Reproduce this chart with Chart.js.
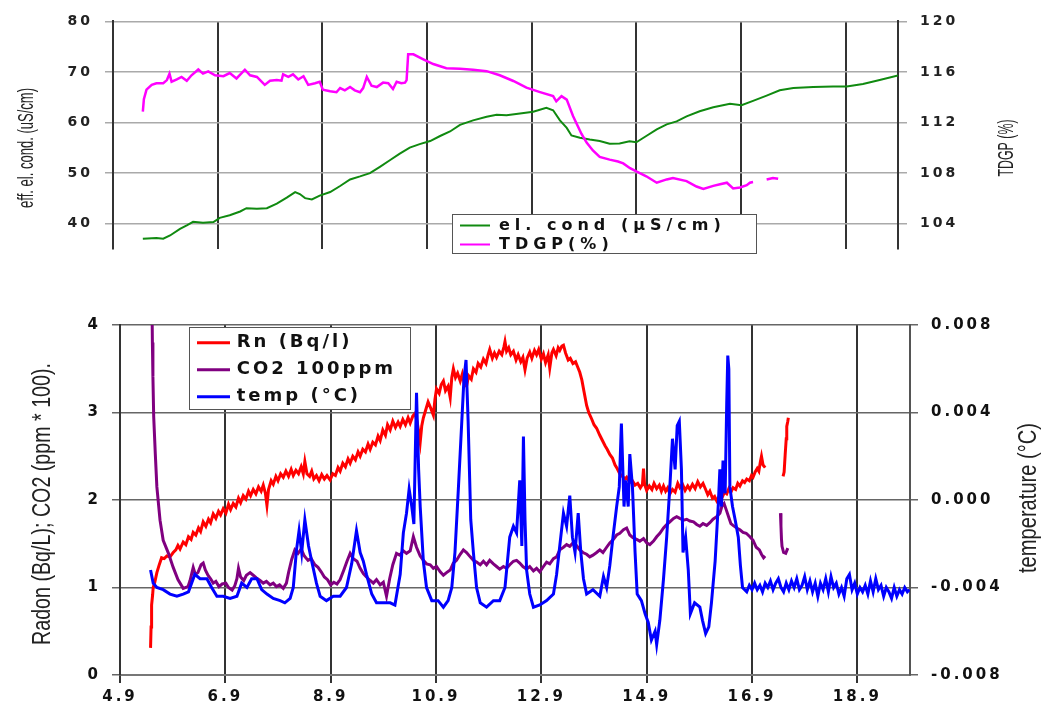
<!DOCTYPE html>
<html>
<head>
<meta charset="utf-8">
<script src="https://cdn.jsdelivr.net/npm/chart.js@4"></script>
<style>
  body { margin: 0; background: #fff; }
  canvas { position: absolute; left: 0; }
  #cond { top: 0; }
  #radon { top: 290px; }
</style>
</head>
<body>
<canvas id="cond" width="1043" height="270"></canvas>
<canvas id="radon" width="1043" height="416"></canvas>
<script>
// ticks
var xTicks = [4.9, 6.9, 8.9, 10.9, 12.9, 14.9, 16.9, 18.9];
var condTicks = [40, 50, 60, 70, 80];
var tdgpTicks = [104, 108, 112, 116, 120];
var radonTicks = [0, 1, 2, 3, 4];
var tempTicks = [-0.008, -0.004, 0, 0.004, 0.008];

// top chart: electrical conductivity (left) and TDGP (right)
var condX = [5.47, 5.73, 5.86, 5.99, 6.18, 6.31, 6.43, 6.62, 6.82, 6.94, 7.13, 7.33, 7.45, 7.65, 7.84, 8.03, 8.22, 8.38, 8.47, 8.57,
  8.70, 8.85, 9.05, 9.24, 9.43, 9.62, 9.81, 10.00, 10.19, 10.38, 10.57, 10.76, 10.96, 11.15, 11.34, 11.53, 11.78, 12.04, 12.23, 12.42,
  12.64, 12.93, 13.18, 13.31, 13.44, 13.57, 13.66, 13.82, 14.01, 14.20, 14.39, 14.58, 14.77, 14.90, 15.09, 15.29, 15.48, 15.67, 15.86, 16.11,
  16.37, 16.69, 16.91, 17.13, 17.39, 17.64, 17.90, 18.28, 18.66, 18.92, 19.23, 19.55, 19.90];
var condY = [36.95, 37.1, 36.95, 37.6, 38.9, 39.6, 40.3, 40.1, 40.25, 41.1, 41.6, 42.35, 43.0, 42.9, 43.0, 43.9, 45.1, 46.2, 45.8, 45.0,
  44.75, 45.5, 46.2, 47.4, 48.7, 49.3, 49.95, 51.2, 52.5, 53.8, 55.0, 55.7, 56.3, 57.3, 58.2, 59.5, 60.4, 61.1, 61.5, 61.4,
  61.7, 62.1, 62.9, 62.4, 60.4, 58.9, 57.4, 56.95, 56.6, 56.3, 55.75, 55.8, 56.25, 56.05, 57.3, 58.6, 59.6, 60.2, 61.2, 62.2,
  63.0, 63.7, 63.4, 64.25, 65.3, 66.35, 66.8, 67.0, 67.1, 67.1, 67.6, 68.4, 69.3];

var tdgpX = [5.47, 5.49, 5.54, 5.64, 5.73, 5.86, 5.93, 5.98, 6.02, 6.12, 6.21, 6.31, 6.40, 6.53, 6.62, 6.72, 6.85, 7.01, 7.13, 7.26,
  7.42, 7.52, 7.65, 7.80, 7.90, 8.03, 8.12, 8.15, 8.25, 8.34, 8.44, 8.54, 8.63, 8.76, 8.85, 8.91, 9.05, 9.17, 9.24, 9.33,
  9.43, 9.52, 9.62, 9.68, 9.75, 9.84, 9.94, 10.06, 10.16, 10.25, 10.32, 10.41, 10.48, 10.51, 10.54, 10.64, 10.83, 11.02, 11.27, 11.53,
  11.78, 12.04, 12.29, 12.55, 12.80, 13.06, 13.31, 13.37, 13.47, 13.57, 13.69, 13.85, 13.95, 14.07, 14.20, 14.39, 14.55, 14.65, 14.78, 14.90,
  15.09, 15.29, 15.48, 15.60, 15.86, 16.05, 16.18, 16.37, 16.50, 16.63, 16.75, 16.88, 17.01, 17.07, 17.13, 17.25, 17.39, 17.51, 17.61];
var tdgpY = [112.86, 113.83, 114.59, 114.97, 115.1, 115.1, 115.35, 115.86, 115.22, 115.4, 115.6, 115.3, 115.73, 116.19, 115.86, 116.04, 115.73, 115.66, 115.91, 115.48,
  116.17, 115.73, 115.6, 114.97, 115.3, 115.35, 115.3, 115.81, 115.6, 115.81, 115.4, 115.66, 114.97, 115.1, 115.22, 114.59, 114.46, 114.39, 114.72, 114.54,
  114.8, 114.54, 114.39, 114.72, 115.6, 114.9, 114.8, 115.15, 115.1, 114.64, 115.22, 115.1, 115.15, 115.35, 117.39, 117.39, 117.0, 116.62, 116.29, 116.24,
  116.17, 116.06, 115.73, 115.28, 114.75, 114.4, 114.08, 113.67, 114.08, 113.8, 112.5, 111.1, 110.4, 109.77, 109.26, 109.05, 108.9, 108.75, 108.37, 108.11,
  107.73, 107.22, 107.48, 107.6, 107.35, 106.92, 106.72, 106.97, 107.1, 107.22, 106.77, 106.84, 107.02, 107.22, 107.27, null, 107.48, 107.6, 107.53];

// bottom chart: radon, CO2 (left) and temperature (right)
var rnX = [5.48, 5.49, 5.50, 5.52, 5.53, 5.56, 5.60, 5.64, 5.69, 5.74, 5.79, 5.85, 5.91, 5.96, 6.00, 6.04, 6.10, 6.15, 6.20, 6.25,
  6.29, 6.34, 6.39, 6.43, 6.48, 6.53, 6.58, 6.62, 6.67, 6.72, 6.77, 6.81, 6.86, 6.91, 6.96, 7.00, 7.05, 7.10, 7.15, 7.19,
  7.24, 7.29, 7.34, 7.38, 7.43, 7.48, 7.53, 7.58, 7.62, 7.66, 7.69, 7.72, 7.77, 7.81, 7.86, 7.90, 7.95, 8.00, 8.05, 8.10,
  8.15, 8.19, 8.24, 8.29, 8.34, 8.38, 8.41, 8.45, 8.50, 8.54, 8.58, 8.63, 8.68, 8.73, 8.78, 8.83, 8.89, 8.94, 8.99, 9.04,
  9.08, 9.13, 9.18, 9.23, 9.27, 9.32, 9.37, 9.42, 9.46, 9.51, 9.56, 9.61, 9.65, 9.70, 9.75, 9.80, 9.84, 9.89, 9.94, 9.98,
  10.03, 10.08, 10.13, 10.18, 10.22, 10.27, 10.32, 10.37, 10.41, 10.46, 10.50, 10.54, 10.58, 10.60, 10.63, 10.66, 10.70, 10.75, 10.80, 10.85,
  10.88, 10.91, 10.96, 11.00, 11.04, 11.08, 11.13, 11.17, 11.20, 11.23, 11.27, 11.31, 11.36, 11.40, 11.44, 11.48, 11.52, 11.57, 11.61, 11.66,
  11.70, 11.75, 11.80, 11.85, 11.89, 11.92, 11.97, 12.01, 12.05, 12.10, 12.15, 12.19, 12.21, 12.24, 12.28, 12.32, 12.37, 12.42, 12.46, 12.51,
  12.55, 12.59, 12.63, 12.68, 12.72, 12.77, 12.81, 12.85, 12.90, 12.94, 12.98, 13.03, 13.06, 13.10, 13.13, 13.18, 13.22, 13.25, 13.29, 13.32,
  13.36, 13.41, 13.45, 13.50, 13.55, 13.59, 13.63, 13.67, 13.71, 13.76, 13.80, 13.86, 13.90, 13.95, 14.01, 14.06, 14.11, 14.15, 14.20, 14.25,
  14.30, 14.34, 14.39, 14.44, 14.49, 14.52, 14.58, 14.63, 14.68, 14.73, 14.78, 14.82, 14.84, 14.86, 14.90, 14.95, 15.00, 15.04, 15.09, 15.14,
  15.18, 15.22, 15.26, 15.30, 15.34, 15.39, 15.44, 15.49, 15.53, 15.58, 15.63, 15.68, 15.72, 15.77, 15.82, 15.87, 15.92, 15.97, 16.02, 16.06,
  16.10, 16.15, 16.19, 16.23, 16.27, 16.30, 16.34, 16.38, 16.42, 16.46, 16.50, 16.54, 16.59, 16.63, 16.67, 16.72, 16.76, 16.80, 16.85, 16.89,
  16.92, 16.96, 17.00, 17.03, 17.06, 17.08, 17.11, 17.15, 17.30, 17.49, 17.51, 17.53, 17.55, 17.56, 17.58, 17.59];
var rnY = [0.31, 0.55, 0.80, 0.92, 1.00, 1.06, 1.17, 1.25, 1.34, 1.33, 1.36, 1.35, 1.40, 1.43, 1.48, 1.44, 1.52, 1.49, 1.58, 1.55,
  1.63, 1.60, 1.68, 1.64, 1.75, 1.70, 1.78, 1.74, 1.84, 1.79, 1.87, 1.83, 1.90, 1.85, 1.95, 1.89, 1.96, 1.92, 2.02, 1.97,
  2.05, 2.01, 2.10, 2.05, 2.12, 2.07, 2.15, 2.10, 2.17, 2.08, 1.94, 2.12, 2.22, 2.18, 2.27, 2.22, 2.30, 2.26, 2.33, 2.27,
  2.35, 2.28, 2.34, 2.30, 2.38, 2.30, 2.44, 2.30, 2.27, 2.33, 2.24, 2.28, 2.22, 2.29, 2.24, 2.28, 2.23, 2.30, 2.28, 2.37,
  2.33, 2.42, 2.38, 2.47, 2.42, 2.50, 2.46, 2.55, 2.50, 2.58, 2.55, 2.64, 2.58, 2.66, 2.63, 2.73, 2.68, 2.80, 2.74, 2.86,
  2.80, 2.90, 2.83, 2.89, 2.84, 2.92, 2.86, 2.94, 2.88, 2.96, 2.99, 2.90, 2.75, 2.66, 2.85, 2.94, 3.02, 3.12, 3.05, 2.97,
  3.15, 3.27, 3.22, 3.32, 3.36, 3.25, 3.30, 3.17, 3.40, 3.50, 3.40, 3.45, 3.36, 3.44, 3.32, 3.30, 3.42, 3.38, 3.50, 3.46,
  3.56, 3.52, 3.61, 3.56, 3.66, 3.72, 3.62, 3.68, 3.63, 3.70, 3.66, 3.75, 3.81, 3.70, 3.74, 3.66, 3.70, 3.60, 3.66, 3.58,
  3.63, 3.49, 3.62, 3.69, 3.62, 3.71, 3.66, 3.72, 3.61, 3.67, 3.57, 3.66, 3.51, 3.68, 3.72, 3.65, 3.74, 3.71, 3.76, 3.77,
  3.68, 3.60, 3.62, 3.56, 3.58, 3.52, 3.46, 3.37, 3.24, 3.08, 3.00, 2.92, 2.86, 2.82, 2.74, 2.68, 2.62, 2.58, 2.52, 2.48,
  2.40, 2.36, 2.30, 2.27, 2.24, 2.26, 2.20, 2.22, 2.17, 2.19, 2.14, 2.18, 2.36, 2.18, 2.11, 2.16, 2.12, 2.19, 2.13, 2.17,
  2.10, 2.16, 2.10, 2.14, 2.07, 2.12, 2.09, 2.19, 2.14, 2.18, 2.11, 2.16, 2.12, 2.18, 2.13, 2.21, 2.15, 2.19, 2.12, 2.06,
  2.10, 2.02, 2.04, 1.99, 2.03, 2.08, 2.04, 2.09, 2.07, 2.13, 2.09, 2.14, 2.12, 2.19, 2.16, 2.22, 2.20, 2.24, 2.22, 2.28,
  2.26, 2.32, 2.36, 2.33, 2.44, 2.50, 2.40, 2.37, null, 2.27, 2.32, 2.52, 2.70, 2.84, 2.90, 2.94];

var co2X = [5.505, 5.515, 5.525, 5.54, 5.57, 5.60, 5.66, 5.72, 5.82, 5.91, 6.00, 6.10, 6.19, 6.23, 6.29, 6.33, 6.38, 6.44, 6.48, 6.52,
  6.57, 6.62, 6.67, 6.72, 6.78, 6.84, 6.91, 6.96, 7.03, 7.08, 7.12, 7.15, 7.19, 7.25, 7.30, 7.37, 7.43, 7.49, 7.56, 7.62,
  7.68, 7.75, 7.81, 7.87, 7.93, 8.00, 8.06, 8.10, 8.16, 8.22, 8.28, 8.34, 8.40, 8.47, 8.53, 8.60, 8.66, 8.72, 8.78, 8.84,
  8.90, 8.96, 9.02, 9.08, 9.15, 9.21, 9.27, 9.33, 9.40, 9.46, 9.52, 9.58, 9.65, 9.71, 9.77, 9.84, 9.90, 9.96, 10.02, 10.08,
  10.15, 10.21, 10.28, 10.34, 10.41, 10.47, 10.53, 10.60, 10.66, 10.72, 10.79, 10.85, 10.91, 10.98, 11.04, 11.10, 11.17, 11.23, 11.29, 11.36,
  11.42, 11.48, 11.55, 11.61, 11.67, 11.74, 11.80, 11.86, 11.92, 11.99, 12.05, 12.11, 12.18, 12.24, 12.30, 12.37, 12.43, 12.49, 12.55, 12.62,
  12.68, 12.75, 12.81, 12.87, 12.94, 13.00, 13.06, 13.13, 13.19, 13.25, 13.32, 13.38, 13.44, 13.50, 13.57, 13.63, 13.69, 13.76, 13.82, 13.88,
  13.95, 14.01, 14.07, 14.14, 14.20, 14.27, 14.33, 14.39, 14.46, 14.52, 14.58, 14.64, 14.71, 14.77, 14.84, 14.90, 14.96, 15.03, 15.09, 15.15,
  15.22, 15.28, 15.34, 15.41, 15.47, 15.53, 15.60, 15.66, 15.72, 15.79, 15.85, 15.91, 15.97, 16.04, 16.10, 16.16, 16.23, 16.29, 16.33, 16.37,
  16.41, 16.46, 16.50, 16.54, 16.61, 16.67, 16.73, 16.79, 16.86, 16.92, 16.98, 17.04, 17.08, 17.12, 17.15, 17.30, 17.44, 17.45, 17.46, 17.47,
  17.50, 17.54, 17.58];
var co2Y = [4.40, 3.80, 3.41, 2.95, 2.53, 2.15, 1.77, 1.54, 1.39, 1.23, 1.09, 0.99, 1.01, 1.08, 1.23, 1.15, 1.17, 1.26, 1.28, 1.20,
  1.14, 1.10, 1.05, 1.07, 1.01, 1.04, 1.05, 1.00, 0.97, 1.02, 1.10, 1.22, 1.12, 1.08, 1.14, 1.17, 1.14, 1.11, 1.08, 1.05,
  1.07, 1.03, 1.05, 1.01, 1.03, 0.99, 1.05, 1.17, 1.32, 1.43, 1.39, 1.44, 1.36, 1.31, 1.33, 1.26, 1.23, 1.18, 1.12, 1.09,
  1.03, 1.06, 1.04, 1.09, 1.20, 1.30, 1.39, 1.33, 1.30, 1.22, 1.16, 1.12, 1.08, 1.05, 1.09, 1.03, 1.06, 0.90, 1.10, 1.26,
  1.39, 1.37, 1.42, 1.39, 1.42, 1.58, 1.46, 1.36, 1.31, 1.27, 1.26, 1.22, 1.24, 1.18, 1.14, 1.17, 1.20, 1.28, 1.31, 1.38,
  1.43, 1.40, 1.35, 1.31, 1.29, 1.26, 1.30, 1.26, 1.31, 1.27, 1.24, 1.21, 1.24, 1.22, 1.26, 1.30, 1.31, 1.28, 1.24, 1.21,
  1.24, 1.19, 1.22, 1.18, 1.24, 1.29, 1.27, 1.33, 1.35, 1.43, 1.46, 1.49, 1.47, 1.51, 1.48, 1.43, 1.40, 1.38, 1.35, 1.37,
  1.40, 1.43, 1.40, 1.46, 1.51, 1.55, 1.60, 1.62, 1.66, 1.68, 1.60, 1.57, 1.55, 1.53, 1.56, 1.51, 1.49, 1.53, 1.58, 1.62,
  1.68, 1.72, 1.75, 1.79, 1.81, 1.79, 1.77, 1.78, 1.76, 1.75, 1.72, 1.70, 1.73, 1.71, 1.74, 1.78, 1.81, 1.85, 1.93, 1.96,
  1.89, 1.80, 1.73, 1.71, 1.68, 1.66, 1.63, 1.62, 1.58, 1.54, 1.46, 1.43, 1.38, 1.34, 1.36, null, 1.85, 1.70, 1.55, 1.47,
  1.40, 1.39, 1.45];

var tempX = [5.48, 5.53, 5.60, 5.72, 5.85, 5.98, 6.10, 6.20, 6.26, 6.32, 6.42, 6.55, 6.64, 6.74, 6.86, 6.99, 7.12, 7.21, 7.31, 7.40,
  7.50, 7.59, 7.69, 7.81, 7.94, 8.03, 8.13, 8.19, 8.25, 8.30, 8.35, 8.41, 8.48, 8.54, 8.63, 8.70, 8.82, 8.95, 9.08, 9.20,
  9.30, 9.39, 9.46, 9.52, 9.58, 9.68, 9.77, 9.90, 10.03, 10.12, 10.22, 10.28, 10.34, 10.39, 10.44, 10.48, 10.53, 10.57, 10.60, 10.66,
  10.72, 10.82, 10.94, 11.04, 11.13, 11.20, 11.26, 11.32, 11.39, 11.43, 11.47, 11.51, 11.56, 11.61, 11.67, 11.74, 11.86, 11.99, 12.11, 12.21,
  12.30, 12.37, 12.43, 12.49, 12.53, 12.56, 12.59, 12.62, 12.68, 12.75, 12.87, 13.00, 13.13, 13.19, 13.25, 13.32, 13.38, 13.44, 13.49, 13.54,
  13.60, 13.65, 13.70, 13.76, 13.88, 14.01, 14.08, 14.14, 14.20, 14.26, 14.33, 14.38, 14.42, 14.47, 14.50, 14.55, 14.58, 14.63, 14.68, 14.72,
  14.80, 14.87, 14.93, 14.99, 15.06, 15.09, 15.15, 15.22, 15.28, 15.34, 15.39, 15.44, 15.48, 15.52, 15.56, 15.59, 15.64, 15.69, 15.73, 15.81,
  15.91, 15.96, 16.02, 16.08, 16.13, 16.20, 16.26, 16.29, 16.32, 16.35, 16.39, 16.42, 16.44, 16.46, 16.48, 16.53, 16.58, 16.64, 16.68, 16.72,
  16.80, 16.85, 16.90, 16.95, 17.00, 17.05, 17.10, 17.15, 17.20, 17.25, 17.30, 17.35, 17.40, 17.45, 17.50, 17.55, 17.60, 17.65, 17.70, 17.75,
  17.80, 17.85, 17.90, 17.95, 18.00, 18.05, 18.10, 18.15, 18.20, 18.25, 18.30, 18.35, 18.40, 18.45, 18.50, 18.55, 18.60, 18.65, 18.70, 18.75,
  18.80, 18.85, 18.90, 18.95, 19.00, 19.05, 19.10, 19.15, 19.20, 19.25, 19.30, 19.35, 19.40, 19.45, 19.50, 19.55, 19.60, 19.65, 19.70, 19.75,
  19.80, 19.85, 19.89];
var tempY = [-0.0032, -0.0038, -0.0040, -0.0041, -0.0043, -0.0044, -0.0043, -0.0042, -0.0038, -0.0034, -0.0036, -0.0036, -0.0040, -0.0044, -0.0044, -0.0045, -0.0044, -0.0038, -0.0040, -0.0036,
  -0.0036, -0.0041, -0.0043, -0.0045, -0.0046, -0.0047, -0.0045, -0.0040, -0.0023, -0.0014, -0.0024, -0.0009, -0.0021, -0.0028, -0.0038, -0.0044, -0.0046, -0.0044, -0.0044, -0.0040,
  -0.0029, -0.0014, -0.0024, -0.0028, -0.0034, -0.0043, -0.0047, -0.0047, -0.0047, -0.0048, -0.0034, -0.0015, -0.0006, 0.0005, -0.0003, -0.0011, 0.0049, 0.0014, -0.0003, -0.0028,
  -0.0040, -0.0046, -0.0046, -0.0049, -0.0046, -0.0040, -0.0024, 0.0003, 0.0036, 0.0055, 0.0064, 0.0036, -0.0009, -0.0024, -0.0040, -0.0047, -0.0049, -0.0046, -0.0046, -0.0040,
  -0.0017, -0.0012, -0.0015, 0.0009, -0.0021, 0.0029, -0.0009, -0.0032, -0.0043, -0.0049, -0.0048, -0.0046, -0.0043, -0.0034, -0.0021, -0.0006, -0.0012, 0.0002, -0.0017, -0.0024,
  -0.0006, -0.0024, -0.0036, -0.0043, -0.0041, -0.0044, -0.0035, -0.0040, -0.0030, -0.0017, -0.0003, 0.0006, 0.0035, -0.0003, 0.0009, -0.0003, 0.0021, 0.0006, -0.0024, -0.0043,
  -0.0046, -0.0052, -0.0056, -0.0064, -0.0060, -0.0066, -0.0055, -0.0036, -0.0017, 0.0006, 0.0028, 0.0014, 0.0034, 0.0036, 0.0014, -0.0024, -0.0017, -0.0032, -0.0052, -0.0047,
  -0.0049, -0.0055, -0.0061, -0.0058, -0.0047, -0.0028, -0.0002, 0.0014, -0.0003, 0.0018, 0.0003, 0.0044, 0.0066, 0.0060, 0.0006, -0.0003, -0.0009, -0.0017, -0.0030, -0.0040,
  -0.0042, -0.0039, -0.0041, -0.0038, -0.0041, -0.0039, -0.0042, -0.0038, -0.0040, -0.0037, -0.0041, -0.0038, -0.0036, -0.0040, -0.0042, -0.0038, -0.0041, -0.0037, -0.0040, -0.0036,
  -0.0041, -0.0039, -0.0035, -0.0041, -0.0037, -0.0042, -0.0038, -0.0044, -0.0038, -0.0041, -0.0036, -0.0042, -0.0035, -0.0040, -0.0038, -0.0043, -0.0040, -0.0044, -0.0036, -0.0034,
  -0.0041, -0.0038, -0.0043, -0.0040, -0.0042, -0.0039, -0.0043, -0.0037, -0.0042, -0.0036, -0.0041, -0.0039, -0.0044, -0.0040, -0.0042, -0.0045, -0.0040, -0.0044, -0.0041, -0.0043,
  -0.0040, -0.0042, -0.0041];

function pts(xs, ys) {
  return xs.map(function (x, i) { return {x: x, y: ys[i]}; });
}
function fixTicks(list) {
  return function (scale) { scale.ticks = list.map(function (v) { return {value: v}; }); };
}
function setWidth(w) { return function (scale) { scale.width = w; }; }
function setHeight(h) { return function (scale) { scale.height = h; }; }

var tickFontTop = {family: 'DejaVu Sans', size: 14, weight: 'bold'};
var tickFontBottom = {family: 'DejaVu Sans', size: 15, weight: 'bold'};

// axis titles (condensed to a set length) and the in-plot legend box
function extras(cfg) {
  return {
    id: 'extras',
    afterDatasetsDraw: function (chart) {
      chart.ctx.letterSpacing = cfg.tickSpacing;
    },
    afterDraw: function (chart) {
      var ctx = chart.ctx;
      ctx.letterSpacing = '0px';
      cfg.titles.forEach(function (t) {
        ctx.save();
        ctx.translate(t.x, t.y);
        ctx.rotate(-Math.PI / 2);
        ctx.font = t.font;
        ctx.fillStyle = '#222';
        ctx.textAlign = 'center';
        ctx.textBaseline = 'middle';
        ctx.fillText(t.text, 0, 0, t.len);
        ctx.restore();
      });
      var lg = cfg.legend;
      ctx.save();
      ctx.fillStyle = '#fff';
      ctx.fillRect(lg.x, lg.y, lg.w, lg.h);
      ctx.strokeStyle = '#555';
      ctx.lineWidth = 1;
      ctx.strokeRect(lg.x, lg.y, lg.w, lg.h);
      chart.data.datasets.forEach(function (ds, i) {
        var y = lg.y0 + i * lg.dy;
        ctx.strokeStyle = ds.borderColor;
        ctx.lineWidth = lg.lw;
        ctx.beginPath();
        ctx.moveTo(lg.lx1, y);
        ctx.lineTo(lg.lx2, y);
        ctx.stroke();
        ctx.font = lg.font;
        ctx.letterSpacing = lg.spacing;
        ctx.fillStyle = '#111';
        ctx.textAlign = 'left';
        ctx.textBaseline = 'middle';
        ctx.fillText(ds.label, lg.tx, y);
      });
      ctx.restore();
    }
  };
}

new Chart(document.getElementById('cond'), {
  type: 'line',
  data: {
    datasets: [{
      label: 'el. cond (µS/cm)',
      data: pts(condX, condY),
      borderColor: '#108a10',
      borderWidth: 2,
      yAxisID: 'y',
      order: 2
    }, {
      label: 'TDGP(%)',
      data: pts(tdgpX, tdgpY),
      borderColor: '#ff00ff',
      borderWidth: 2.5,
      yAxisID: 'y2',
      order: 1
    }]
  },
  options: {
    responsive: false,
    animation: false,
    events: [],
    layout: {padding: {top: 19, left: 0, right: 0, bottom: 0}},
    elements: {point: {radius: 0}, line: {tension: 0}},
    plugins: {legend: {display: false}, tooltip: {enabled: false}},
    scales: {
      x: {
        type: 'linear', min: 4.9, max: 19.9,
        afterBuildTicks: fixTicks(xTicks),
        afterFit: setHeight(15),
        ticks: {display: false},
        grid: {color: '#333', lineWidth: 2, drawTicks: false},
        border: {display: false}
      },
      y: {
        position: 'left', min: 35, max: 80,
        afterBuildTicks: fixTicks(condTicks),
        afterFit: setWidth(113),
        ticks: {font: tickFontTop, color: '#222', padding: 12, z: 1},
        grid: {color: '#aaa', lineWidth: 1.5, tickLength: 8},
        border: {color: '#333', width: 2}
      },
      y2: {
        position: 'right', min: 102, max: 120,
        afterBuildTicks: fixTicks(tdgpTicks),
        afterFit: setWidth(145),
        ticks: {font: tickFontTop, color: '#222', padding: 13, z: 1},
        grid: {color: '#aaa', lineWidth: 1.5, tickLength: 9, drawOnChartArea: false},
        border: {color: '#333', width: 2}
      }
    }
  },
  plugins: [extras({
    tickSpacing: '3px',
    titles: [
      {text: 'eff. el. cond. (uS/cm)', x: 27, y: 148, len: 120, font: "22px 'Liberation Sans', Arial, sans-serif"},
      {text: 'TDGP (%)', x: 1007, y: 148, len: 57, font: "22px 'Liberation Sans', Arial, sans-serif"}
    ],
    legend: {x: 452.5, y: 214.5, w: 304, h: 39, y0: 225.5, dy: 19, lx1: 460, lx2: 490, tx: 499, lw: 2,
      font: "bold 16px 'DejaVu Sans'", spacing: '5px'}
  })]
});

new Chart(document.getElementById('radon'), {
  type: 'line',
  data: {
    datasets: [{
      label: 'Rn (Bq/l)',
      data: pts(rnX, rnY),
      borderColor: '#ff0000',
      borderWidth: 3,
      yAxisID: 'y',
      order: 3
    }, {
      label: 'CO2 100ppm',
      data: pts(co2X, co2Y),
      borderColor: '#800080',
      borderWidth: 3,
      yAxisID: 'y',
      order: 2
    }, {
      label: 'temp (°C)',
      data: pts(tempX, tempY),
      borderColor: '#0000ff',
      borderWidth: 3,
      yAxisID: 'y2',
      order: 1
    }]
  },
  options: {
    responsive: false,
    animation: false,
    events: [],
    layout: {padding: {top: 35, left: 0, right: 0, bottom: 0}},
    elements: {point: {radius: 0}, line: {tension: 0}},
    plugins: {legend: {display: false}, tooltip: {enabled: false}},
    scales: {
      x: {
        type: 'linear', min: 4.9, max: 19.9,
        afterBuildTicks: fixTicks(xTicks),
        afterFit: setHeight(31),
        ticks: {font: tickFontBottom, color: '#111', padding: 5, maxRotation: 0, z: 1,
          callback: function (v) { return v.toFixed(1); }},
        grid: {color: '#333', lineWidth: 2, tickLength: 8},
        border: {color: '#777', width: 2}
      },
      y: {
        position: 'left', min: 0, max: 4,
        afterBuildTicks: fixTicks(radonTicks),
        afterFit: setWidth(120),
        ticks: {font: tickFontBottom, color: '#111', padding: 11, z: 1},
        grid: {color: '#666', lineWidth: 1.5, tickLength: 8},
        border: {color: '#333', width: 2}
      },
      y2: {
        position: 'right', min: -0.008, max: 0.008,
        afterBuildTicks: fixTicks(tempTicks),
        afterFit: setWidth(133),
        ticks: {font: tickFontBottom, color: '#111', padding: 13, z: 1,
          callback: function (v) { return (Math.abs(v) < 1e-9 ? 0 : v).toFixed(3); }},
        grid: {color: '#666', lineWidth: 1.5, tickLength: 8, drawOnChartArea: false},
        border: {color: '#555', width: 2}
      }
    }
  },
  plugins: [extras({
    tickSpacing: '3px',
    titles: [
      {text: 'Radon (Bq/L); CO2 (ppm * 100).', x: 43, y: 214, len: 282, font: "25px 'Liberation Sans', Arial, sans-serif"},
      {text: 'temperature (°C)', x: 1029, y: 208, len: 150, font: "25px 'Liberation Sans', Arial, sans-serif"}
    ],
    legend: {x: 189.5, y: 37.5, w: 221, h: 82, y0: 52.7, dy: 27, lx1: 197, lx2: 230, tx: 236.7, lw: 3,
      font: "bold 18px 'DejaVu Sans'", spacing: '3px'}
  })]
});
</script>
</body>
</html>
